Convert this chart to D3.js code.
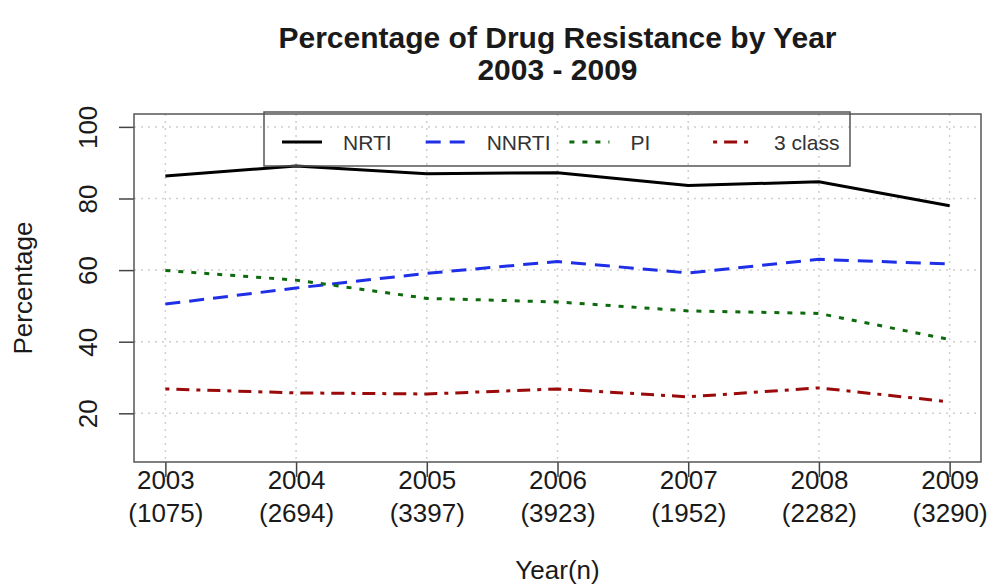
<!DOCTYPE html>
<html>
<head>
<meta charset="utf-8">
<script src="https://cdn.jsdelivr.net/npm/d3@7"></script>
<style>
  body { margin: 0; background: #fff; }
  text { font-family: "Liberation Sans", Arial, sans-serif; fill: #1a1a1a; }
</style>
</head>
<body>
<script>
let width = 991
let height = 586

// data
const years = [2003, 2004, 2005, 2006, 2007, 2008, 2009]
const counts = [1075, 2694, 3397, 3923, 1952, 2282, 3290]
const nrti = [86.3, 89.1, 86.9, 87.2, 83.6, 84.7, 78.0]
const nnrti = [50.5, 55.0, 59.1, 62.4, 59.2, 63.0, 61.7]
const pi = [59.9, 57.2, 52.1, 51.1, 48.6, 47.9, 40.6]
const threeClass = [26.8, 25.7, 25.4, 26.8, 24.6, 27.1, 23.2]
const yTicks = [20, 40, 60, 80, 100]

const series = [
  {name: 'NRTI', values: nrti, color: '#000000', dash: null},
  {name: 'NNRTI', values: nnrti, color: '#1f2fe8', dash: '15,9'},
  {name: 'PI', values: pi, color: '#0d6a0d', dash: '5,8'},
  {name: '3 class', values: threeClass, color: '#9a0a0a', dash: '4,7,13,7'}
]

const plotLeft = 134, plotRight = 981, plotTop = 114, plotBottom = 462

const svg = d3.select('body')
    .append('svg')
    .attr('width', width)
    .attr('height', height)

// R style: 4% padding around xlim / ylim
const x = d3.scaleLinear().domain([2002.76, 2009.24]).range([plotLeft, plotRight])
const y = d3.scaleLinear().domain([6.4, 103.6]).range([plotBottom, plotTop])

// grid
const grid = svg.append('g')
    .attr('stroke', '#cfcfcf')
    .attr('stroke-width', 1.5)
    .attr('stroke-dasharray', '2,5')
grid.selectAll('.gx')
    .data(years)
    .enter()
    .append('line')
      .attr('x1', d => x(d)).attr('x2', d => x(d))
      .attr('y1', plotTop).attr('y2', plotBottom)
grid.selectAll('.gy')
    .data(yTicks)
    .enter()
    .append('line')
      .attr('x1', plotLeft).attr('x2', plotRight)
      .attr('y1', d => y(d)).attr('y2', d => y(d))

// lines
const line = d3.line()
    .x((d, i) => x(years[i]))
    .y(d => y(d))

svg.selectAll('.series')
    .data(series)
    .enter()
    .append('path')
      .attr('fill', 'none')
      .attr('stroke', d => d.color)
      .attr('stroke-width', 3)
      .attr('stroke-dasharray', d => d.dash)
      .attr('d', d => line(d.values))

// axes
const xAxis = svg.append('g')
    .attr('transform', `translate(0,${plotBottom})`)
    .call(d3.axisBottom(x).tickValues(years).tickSize(15).tickFormat(''))
xAxis.select('.domain').remove()
xAxis.selectAll('.tick line').attr('stroke', '#444').attr('stroke-width', 1.5)
xAxis.selectAll('.tick').each(function(d, i) {
  const t = d3.select(this).append('text')
      .attr('text-anchor', 'middle')
      .style('font-size', '26px')
  t.append('tspan').attr('x', 0).attr('y', 27).text(d)
  t.append('tspan').attr('x', 0).attr('y', 60).text('(' + counts[i] + ')')
})

const yAxis = svg.append('g')
    .attr('transform', `translate(${plotLeft},0)`)
    .call(d3.axisLeft(y).tickValues(yTicks).tickSize(15).tickFormat(''))
yAxis.select('.domain').remove()
yAxis.selectAll('.tick line').attr('stroke', '#444').attr('stroke-width', 1.5)
yAxis.selectAll('.tick')
    .append('text')
      .attr('text-anchor', 'middle')
      .attr('transform', 'translate(-37,0) rotate(-90)')
      .style('font-size', '26px')
      .text(d => d)

// box
svg.append('rect')
    .attr('x', plotLeft).attr('y', plotTop)
    .attr('width', plotRight - plotLeft).attr('height', plotBottom - plotTop)
    .attr('fill', 'none')
    .attr('stroke', '#555')
    .attr('stroke-width', 1.5)

// legend
const legend = svg.append('g')
legend.append('rect')
    .attr('x', 264).attr('y', 112)
    .attr('width', 586).attr('height', 54)
    .attr('fill', 'none')
    .attr('stroke', '#555')
    .attr('stroke-width', 1.5)
const item = legend.selectAll('.item')
    .data(series)
    .enter()
    .append('g')
      .attr('transform', (d, i) => `translate(${343 + i * 143.7},142)`)
item.append('line')
    .attr('x1', -61).attr('x2', -21)
    .attr('stroke', d => d.color)
    .attr('stroke-width', 3)
    .attr('stroke-dasharray', d => d.dash)
item.append('text')
    .attr('y', 8)
    .style('font-size', '21px')
    .style('fill', '#333')
    .text(d => d.name)

// titles
svg.append('text')
    .attr('x', (plotLeft + plotRight) / 2).attr('y', 48)
    .attr('text-anchor', 'middle')
    .style('font-size', '30px').style('font-weight', 'bold')
    .text('Percentage of Drug Resistance by Year')
svg.append('text')
    .attr('x', (plotLeft + plotRight) / 2).attr('y', 80)
    .attr('text-anchor', 'middle')
    .style('font-size', '30px').style('font-weight', 'bold')
    .text('2003 - 2009')

svg.append('text')
    .attr('x', (plotLeft + plotRight) / 2).attr('y', 579)
    .attr('text-anchor', 'middle')
    .style('font-size', '26px')
    .text('Year(n)')

svg.append('text')
    .attr('transform', `translate(32,${(plotTop + plotBottom) / 2}) rotate(-90)`)
    .attr('text-anchor', 'middle')
    .style('font-size', '26px')
    .text('Percentage')
</script>
</body>
</html>
